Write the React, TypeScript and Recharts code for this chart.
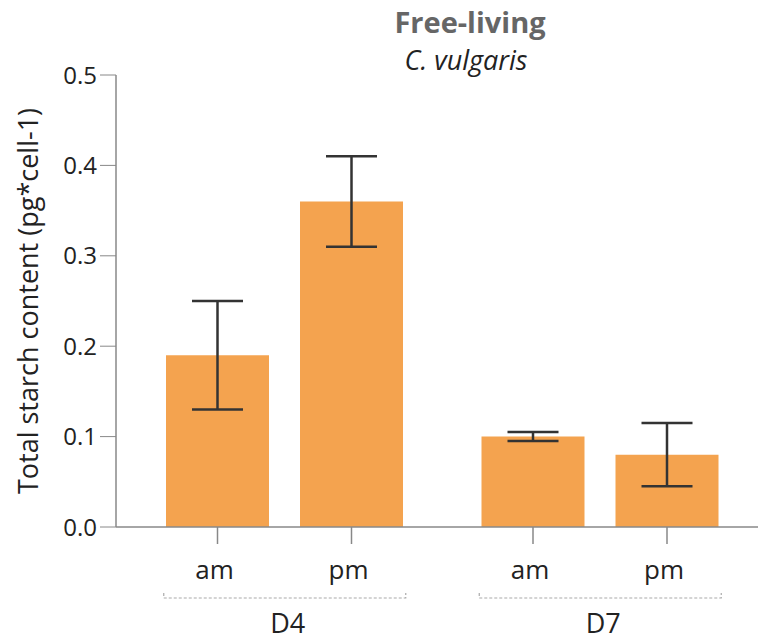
import React from "react"
import { BarChart, Bar, XAxis, YAxis, ErrorBar, LabelList } from "recharts"

// starch content per day, morning / evening sample
const days = ["D4", "D7"]
const amValues = [0.19, 0.1]
const pmValues = [0.36, 0.08]
const amErrors = [0.06, 0.005]
const pmErrors = [0.05, 0.035]
const yTicks = [0, 0.1, 0.2, 0.3, 0.4, 0.5]

const data = days.map((day, i) => ({
  day,
  am: amValues[i],
  pm: pmValues[i],
  amErr: amErrors[i],
  pmErr: pmErrors[i],
}))

const FONT = "'Open Sans', sans-serif"
const BAR_COLOR = "#F4A34F"
const AXIS_COLOR = "#888"

// tick mark + am/pm label under each bar
const barTick = (label: string) => (props: any) => {
  const vb = props.viewBox ?? props
  const x = Number(vb.x) + Number(vb.width) / 2
  const base = Number(vb.y) + Number(vb.height)
  return (
    <g>
      <line x1={x} x2={x} y1={base} y2={base + 17} stroke={AXIS_COLOR} strokeWidth={1.5} />
      <text x={x - 3} y={base + 52} textAnchor="middle" fontSize={26} fill="#222" fontFamily={FONT}>
        {label}
      </text>
    </g>
  )
}

// dotted bracket + day label under each group
const GroupTick = (props: any) => {
  const { x, y, payload } = props
  const half = 121
  const by = y + 71
  return (
    <g>
      <path
        d={`M${x - half},${by - 5} V${by} H${x + half} V${by - 5}`}
        fill="none"
        stroke="#aaa"
        strokeWidth={1.2}
        strokeDasharray="3 2"
      />
      <text x={x + 3} y={y + 106} textAnchor="middle" fontSize={27} fill="#222" fontFamily={FONT}>
        {payload.value}
      </text>
    </g>
  )
}

export default function App() {
  return (
    <div style={{ position: "absolute", left: 0, top: 0, width: 758, height: 641, fontFamily: FONT }}>
      <BarChart
        width={758}
        height={641}
        data={data}
        margin={{ top: 75, right: 0, bottom: 0, left: 0 }}
        barGap={31}
      >
        <XAxis
          dataKey="day"
          height={114}
          tickLine={false}
          tickSize={0}
          tickMargin={0}
          padding={{ left: 11, right: 0 }}
          axisLine={{ stroke: AXIS_COLOR, strokeWidth: 1.5 }}
          tick={<GroupTick />}
          interval={0}
        />
        <YAxis
          domain={[0, 0.5]}
          ticks={yTicks}
          interval={0}
          tickFormatter={(v: number) => v.toFixed(1)}
          width={116}
          tickSize={16}
          tickMargin={3}
          tickLine={{ stroke: AXIS_COLOR }}
          axisLine={{ stroke: AXIS_COLOR, strokeWidth: 1.5 }}
          tick={{ fill: "#222", fontSize: 24, fontFamily: FONT }}
          label={{
            value: "Total starch content (pg*cell-1)",
            angle: -90,
            position: "insideLeft",
            offset: 28,
            style: { textAnchor: "middle", fill: "#222", fontSize: 27, fontFamily: FONT },
          }}
        />
        <Bar dataKey="am" fill={BAR_COLOR} barSize={103} isAnimationActive={false}>
          <ErrorBar dataKey="amErr" width={25.5} stroke="#333" strokeWidth={2.5} />
          <LabelList dataKey="am" content={barTick("am")} />
        </Bar>
        <Bar dataKey="pm" fill={BAR_COLOR} barSize={103} isAnimationActive={false}>
          <ErrorBar dataKey="pmErr" width={25.5} stroke="#333" strokeWidth={2.5} />
          <LabelList dataKey="pm" content={barTick("pm")} />
        </Bar>
      </BarChart>
      <svg
        width={758}
        height={80}
        style={{ position: "absolute", left: 0, top: 0, pointerEvents: "none" }}
      >
        <text x={470} y={33} textAnchor="middle" fontSize={29} fontWeight="bold" fill="#666" fontFamily={FONT}>
          Free-living
        </text>
        <text x={466} y={70} textAnchor="middle" fontSize={27} fontStyle="italic" fill="#222" fontFamily={FONT}>
          C. vulgaris
        </text>
      </svg>
    </div>
  )
}
